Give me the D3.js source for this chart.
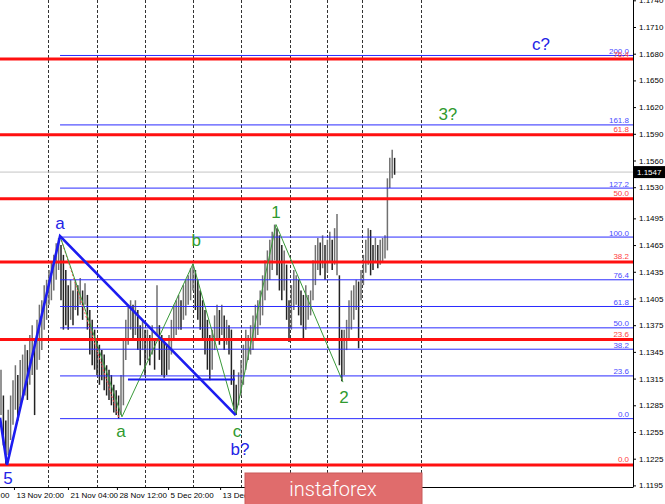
<!DOCTYPE html>
<html>
<head>
<meta charset="utf-8">
<script src="https://cdn.jsdelivr.net/npm/d3@7"></script>
<style>
  html, body { margin: 0; padding: 0; background: #fff; }
  svg { display: block; }
</style>
</head>
<body>
<div id="chart"></div>
<script>
// bar highs / lows (H4)
const barHigh = [
  1.1325,1.1296,1.1268,1.1280,1.1296,1.1313,1.1330,1.1319,1.1336,1.1342,
  1.1353,1.1347,1.1364,1.1375,1.1358,1.1381,1.1398,1.1403,1.1420,1.1426,
  1.1437,1.1446,1.1454,1.1467,1.1473,
  1.1465,1.1454,1.1437,1.1420,1.1426,1.1414,1.1426,1.1420,1.1428,1.1414,
  1.1422,1.1409,1.1392,1.1381,1.1370,1.1358,1.1353,1.1347,1.1342,1.1330,
  1.1325,1.1319,1.1308,1.1302,1.1296,1.1319,
  1.1358,1.1381,1.1398,1.1403,1.1398,1.1403,1.1392,1.1375,1.1381,1.1370,
  1.1370,1.1364,1.1375,1.1358,1.1420,1.1375,1.1364,1.1358,1.1353,1.1364,
  1.1381,1.1398,1.1403,1.1409,1.1403,1.1420,1.1426,1.1431,1.1439,1.1444,
  1.1437,1.1426,1.1414,1.1403,1.1392,1.1381,1.1364,1.1370,1.1386,1.1398,
  1.1392,1.1398,1.1386,1.1381,1.1375,1.1370,1.1325,1.1308,
  1.1322,1.1336,1.1353,1.1370,1.1364,1.1375,1.1386,1.1398,1.1403,1.1414,
  1.1431,1.1448,1.1459,1.1471,1.1480,1.1488,1.1484,1.1476,1.1465,1.1459,
  1.1443,1.1403,1.1420,1.1437,1.1431,1.1426,1.1414,1.1409,1.1420,1.1409,
  1.1414,1.1448,1.1465,1.1473,1.1468,1.1476,1.1465,1.1471,1.1480,1.1471,
  1.1484,1.1500,1.1431,1.1370,1.1370,1.1381,1.1403,1.1414,1.1420,1.1426,
  1.1424,1.1437,1.1454,1.1471,1.1484,1.1482,1.1465,1.1473,1.1465,1.1471,
  1.1473,1.1476,1.1540,1.1563,1.1572,1.1563
];
const barLow = [
  1.1274,1.1240,1.1218,1.1229,1.1246,1.1263,1.1280,1.1268,1.1285,1.1291,
  1.1296,1.1291,1.1308,1.1319,1.1274,1.1325,1.1336,1.1347,1.1370,1.1381,
  1.1398,1.1403,1.1414,1.1426,1.1437,
  1.1403,1.1370,1.1375,1.1370,1.1381,1.1375,1.1392,1.1386,1.1398,1.1381,
  1.1398,1.1370,1.1342,1.1330,1.1325,1.1319,1.1308,1.1313,1.1302,1.1296,
  1.1291,1.1285,1.1277,1.1274,1.1270,1.1274,
  1.1285,1.1336,1.1353,1.1370,1.1358,1.1364,1.1347,1.1330,1.1347,1.1319,
  1.1336,1.1330,1.1342,1.1325,1.1364,1.1336,1.1319,1.1316,1.1319,1.1325,
  1.1342,1.1358,1.1364,1.1370,1.1370,1.1381,1.1386,1.1398,1.1403,1.1414,
  1.1392,1.1381,1.1370,1.1358,1.1342,1.1325,1.1313,1.1325,1.1347,1.1358,
  1.1353,1.1364,1.1347,1.1353,1.1342,1.1308,1.1280,1.1274,
  1.1285,1.1296,1.1308,1.1325,1.1336,1.1342,1.1347,1.1358,1.1364,1.1375,
  1.1386,1.1403,1.1414,1.1426,1.1437,1.1448,1.1431,1.1414,1.1403,1.1414,
  1.1381,1.1356,1.1370,1.1392,1.1398,1.1386,1.1375,1.1358,1.1370,1.1381,
  1.1386,1.1403,1.1420,1.1437,1.1431,1.1439,1.1426,1.1434,1.1446,1.1437,
  1.1443,1.1431,1.1330,1.1312,1.1319,1.1347,1.1358,1.1370,1.1381,1.1392,
  1.1349,1.1403,1.1420,1.1434,1.1443,1.1431,1.1437,1.1446,1.1439,1.1443,
  1.1446,1.1450,1.1459,1.1529,1.1540,1.1544
];
const lastPrice = 1.1547;

const priceTicks = [1.1740,1.1710,1.1680,1.1650,1.1620,1.1590,1.1560,1.1530,1.1495,1.1465,
  1.1435,1.1405,1.1375,1.1345,1.1315,1.1285,1.1255,1.1225,1.1195];

const timeLabels = ["6 Nov 12:00","13 Nov 20:00","21 Nov 04:00","28 Nov 12:00","5 Dec 20:00",
  "13 Dec 04:00"];
const timeLabelBar = [-15.5,5.4,27.9,48.3,69.6,91.3];
const gridBar = [19.6,40,60,80,100,120.4,135.8,150.4,175];

// fibonacci grids
const blueFibLevels = ["0.0","23.6","38.2","50.0","61.8","76.4","100.0","127.2","161.8","200.0"];
const blueFibPrices = [1.1270,1.1318,1.1348,1.1372,1.1396,1.1426,1.1474,1.1529,1.1600,1.1678];
const redFibLevels = ["0.0","23.6","38.2","50.0","61.8","76.4"];
const redFibPrices = [1.1218,1.1359,1.1446,1.1517,1.1589,1.1674];
const blueFibStartBar = 24.6;

// wave markup
const majorWaveBar = [-0.4,2.5,24.6,97.8];
const majorWavePrice = [1.1271,1.1218,1.1475,1.1274];
const minorWaveBar = [24.6,50.4,80,97.8,114.6,142.5];
const minorWavePrice = [1.1475,1.1272,1.1444,1.1274,1.1488,1.1311];
const dottedWaveBar = [24.6,49.2];
const dottedWavePrice = [1.1475,1.1270];
const flatLineBar = [52.9,97.5];
const flatLinePrice = 1.1314;

const waveLabelText = ["5","a","a","b","c","b?","1","2","3?","c?"];
const waveLabelBar = [2.9,24.6,50,81.3,98.3,99.6,114.6,142.9,186.2,225];
const waveLabelPrice = [1.1203,1.1489,1.1255,1.1470,1.1256,1.1235,1.1502,1.1294,1.1612,1.1690];
const waveLabelDegree = ["major","major","minor","minor","minor","major","minor","minor","minor","major"];

const W = 665, H = 504;
const plotRight = 633, plotBottom = 487;

const svg = d3.select("#chart").append("svg")
    .attr("width", W)
    .attr("height", H)
    .style("font-family", "'Liberation Sans', Arial, sans-serif");

svg.append("rect").attr("width", W).attr("height", H).attr("fill", "#fff");

const x = d3.scaleLinear().domain([0, 164]).range([1, 394.6]);
const y = d3.scaleLinear().domain([1.1195, 1.1710]).range([485.4, 27]);

const plot = svg.append("g");

// vertical grid
plot.selectAll("line.grid")
    .data(gridBar)
    .join("line")
    .attr("class", "grid")
    .attr("x1", d => Math.round(x(d)) + 0.5)
    .attr("x2", d => Math.round(x(d)) + 0.5)
    .attr("y1", 0)
    .attr("y2", plotBottom)
    .attr("stroke", "#333")
    .attr("stroke-dasharray", "3,2");

// bid line
plot.append("line")
    .attr("x1", 0).attr("x2", plotRight)
    .attr("y1", y(lastPrice)).attr("y2", y(lastPrice))
    .attr("stroke", "#c4c4c4");

// bars
plot.selectAll("line.bar")
    .data(barHigh)
    .join("line")
    .attr("class", "bar")
    .attr("x1", (d, i) => x(i))
    .attr("x2", (d, i) => x(i))
    .attr("y1", d => y(d))
    .attr("y2", (d, i) => y(barLow[i]))
    .attr("stroke", (d, i) => {
        const mid = (d + barLow[i]) / 2;
        const prev = i > 0 ? (barHigh[i - 1] + barLow[i - 1]) / 2 : mid;
        return mid >= prev ? "#707070" : "#222";
    })
    .attr("stroke-width", 1.5);

// blue fib grid
blueFibPrices.forEach((p, i) => {
    plot.append("line")
        .attr("x1", x(blueFibStartBar)).attr("x2", plotRight)
        .attr("y1", y(p)).attr("y2", y(p))
        .attr("stroke", "#2a2aff")
        .attr("stroke-width", 1);
    plot.append("text")
        .attr("x", 629).attr("y", y(p) - 1.5)
        .attr("text-anchor", "end")
        .attr("font-size", 8)
        .attr("fill", "#4a4aff")
        .text(blueFibLevels[i]);
});

// red fib grid
redFibPrices.forEach((p, i) => {
    plot.append("line")
        .attr("x1", 0).attr("x2", plotRight)
        .attr("y1", y(p)).attr("y2", y(p))
        .attr("stroke", "#ff1010")
        .attr("stroke-width", 3);
    plot.append("text")
        .attr("x", 629).attr("y", y(p) - 2.5)
        .attr("text-anchor", "end")
        .attr("font-size", 8)
        .attr("fill", "#ff4040")
        .text(redFibLevels[i]);
});

// wave lines
const path = (bars, prices) => d3.line()(bars.map((b, i) => [x(b), y(prices[i])]));

plot.append("path")
    .attr("d", path(dottedWaveBar, dottedWavePrice))
    .attr("fill", "none")
    .attr("stroke", "#ff5050")
    .attr("stroke-dasharray", "2,2");

plot.append("path")
    .attr("d", path(minorWaveBar, minorWavePrice))
    .attr("fill", "none")
    .attr("stroke", "#3a9a3a")
    .attr("stroke-width", 1);

plot.append("path")
    .attr("d", path(majorWaveBar, majorWavePrice))
    .attr("fill", "none")
    .attr("stroke", "#1c1cf0")
    .attr("stroke-width", 2.6);

plot.append("line")
    .attr("x1", x(flatLineBar[0])).attr("x2", x(flatLineBar[1]))
    .attr("y1", y(flatLinePrice)).attr("y2", y(flatLinePrice))
    .attr("stroke", "#1c1cf0")
    .attr("stroke-width", 2.2);

// wave labels
const degreeColor = { major: "#2323e6", minor: "#2f9a2f" };
plot.selectAll("text.wave")
    .data(waveLabelText)
    .join("text")
    .attr("class", "wave")
    .attr("x", (d, i) => x(waveLabelBar[i]))
    .attr("y", (d, i) => y(waveLabelPrice[i]))
    .attr("text-anchor", "middle")
    .attr("dominant-baseline", "central")
    .attr("font-size", 17)
    .attr("fill", (d, i) => degreeColor[waveLabelDegree[i]])
    .text(d => d);

// right price axis
const yAxis = svg.append("g")
    .attr("transform", `translate(${plotRight},0)`)
    .call(d3.axisRight(y).tickValues(priceTicks).tickSize(3).tickPadding(3)
        .tickFormat(d3.format(".4f")));
yAxis.select(".domain").remove();
yAxis.selectAll("text").attr("font-size", 8).attr("font-family", "'Liberation Sans', Arial, sans-serif").attr("fill", "#000");
svg.append("line")
    .attr("x1", plotRight + 0.5).attr("x2", plotRight + 0.5)
    .attr("y1", 0).attr("y2", plotBottom)
    .attr("stroke", "#000");

// bottom time axis
const xAxis = svg.append("g")
    .attr("transform", `translate(0,${plotBottom})`)
    .call(d3.axisBottom(x).tickValues(timeLabelBar).tickSize(3).tickPadding(2)
        .tickFormat((d, i) => timeLabels[i]));
xAxis.select(".domain").remove();
xAxis.selectAll("text")
    .attr("text-anchor", "start")
    .attr("dx", 2)
    .attr("font-size", 8)
    .attr("font-family", "'Liberation Sans', Arial, sans-serif")
    .attr("fill", "#000");
svg.append("line")
    .attr("x1", 0).attr("x2", plotRight + 0.5)
    .attr("y1", plotBottom + 0.5).attr("y2", plotBottom + 0.5)
    .attr("stroke", "#000");

// last price tag
svg.append("rect")
    .attr("x", plotRight + 1).attr("y", y(lastPrice) - 6)
    .attr("width", 31).attr("height", 12)
    .attr("fill", "#000");
svg.append("text")
    .attr("x", plotRight + 4).attr("y", y(lastPrice) + 3)
    .attr("font-size", 8)
    .attr("fill", "#fff")
    .text(d3.format(".4f")(lastPrice));

// watermark
svg.append("rect")
    .attr("x", 245).attr("y", 473)
    .attr("width", 177).attr("height", 40)
    .attr("fill", "#e06c6c")
    .attr("stroke", "#c95a5a");
svg.append("text")
    .attr("x", 333).attr("y", 496)
    .attr("text-anchor", "middle")
    .attr("font-family", "Roboto, 'Open Sans', sans-serif")
    .attr("font-weight", 300)
    .attr("font-size", 20)
    .attr("fill", "#fff")
    .text("instaforex");
</script>
</body>
</html>
